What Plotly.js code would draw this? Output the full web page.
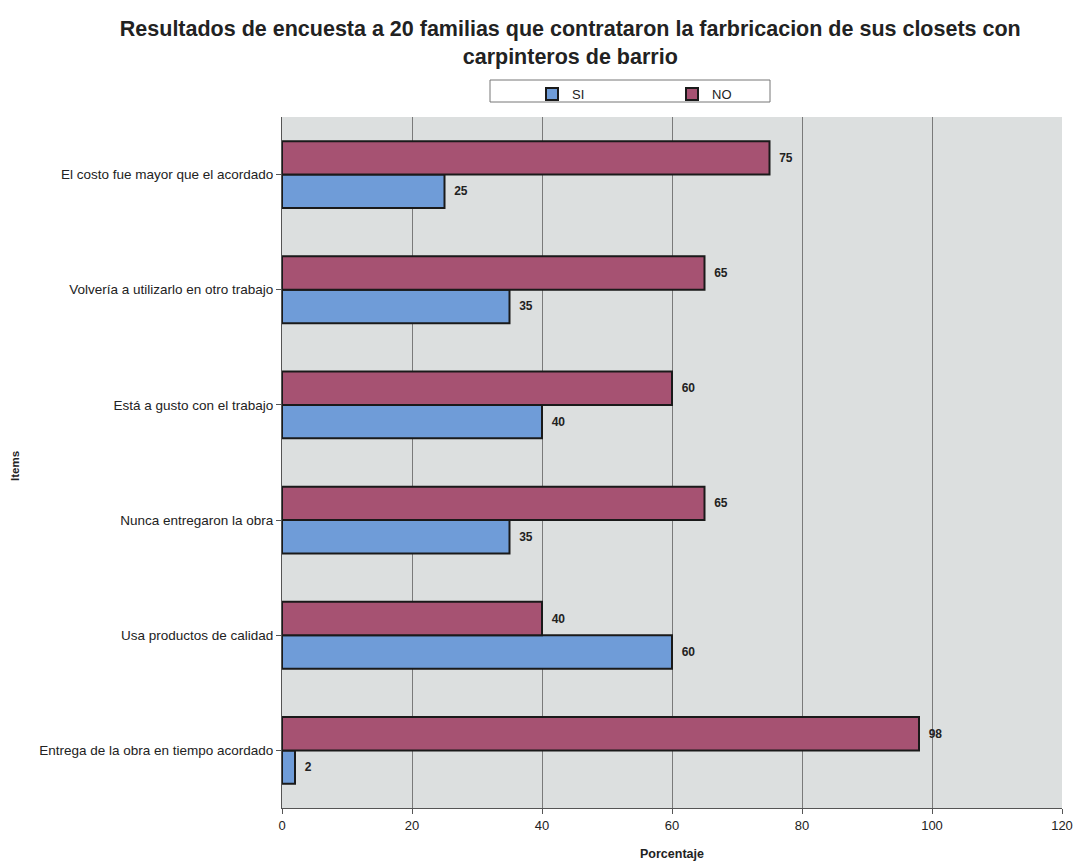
<!DOCTYPE html>
<html>
<head>
<meta charset="utf-8">
<script src="https://cdn.plot.ly/plotly-3.0.1.min.js"></script>
<style>html,body{margin:0;padding:0;background:#fff;}#chart{width:1076px;height:862px;}</style>
</head>
<body>
<div id="chart"></div>
<script>
const categories = [
  "Entrega de la obra en tiempo acordado",
  "Usa productos de calidad",
  "Nunca entregaron la obra",
  "Está a gusto con el trabajo",
  "Volvería a utilizarlo en otro trabajo",
  "El costo fue mayor que el acordado"
];
const siValues = [2, 60, 35, 40, 35, 25];
const noValues = [98, 40, 65, 60, 65, 75];
const xTicks = [0, 20, 40, 60, 80, 100, 120];

const labelFont = {family: 'Arial, Liberation Sans', size: 12, color: '#222', weight: 'bold'};

const traces = [
  {
    type: 'bar', orientation: 'h', name: 'SI',
    y: categories, x: siValues,
    texttemplate: '  %{x}', textposition: 'outside',
    textfont: labelFont,
    marker: {color: '#6f9cd8', line: {color: '#1a1a1a', width: 2}},
    cliponaxis: false
  },
  {
    type: 'bar', orientation: 'h', name: 'NO',
    y: categories, x: noValues,
    texttemplate: '  %{x}', textposition: 'outside',
    textfont: labelFont,
    marker: {color: '#a65272', line: {color: '#1a1a1a', width: 2}},
    cliponaxis: false
  }
];

const L = 282, R = 1062, T = 117, B = 808;
const px2x = p => (p - L) / (R - L);
const py2y = p => 1 + (T - p) / (B - T);

const layout = {
  width: 1076, height: 862,
  paper_bgcolor: '#ffffff',
  plot_bgcolor: '#dcdfdf',
  font: {family: 'Arial, Liberation Sans', size: 12, color: '#222'},
  title: {
    text: 'Resultados de encuesta a 20 familias que contrataron la farbricacion de sus closets con<br>carpinteros de barrio',
    font: {family: 'Arial, Liberation Sans', size: 21.5, color: '#222', weight: 'bold'},
    x: 0.53, xanchor: 'center', y: 0.958, yanchor: 'top'
  },
  margin: {l: L, r: 1076 - R, t: T, b: 862 - B},
  barmode: 'group',
  bargap: 0.42,
  bargroupgap: 0,
  showlegend: true,
  legend: {
    orientation: 'h', x: px2x(532), xanchor: 'left', y: py2y(79), yanchor: 'top',
    bgcolor: 'rgba(0,0,0,0)', borderwidth: 0,
    font: {family: 'Arial, Liberation Sans', size: 13, color: '#222'},
    itemwidth: 30, entrywidth: 95, entrywidthmode: 'pixels', traceorder: 'normal'
  },
  shapes: [{
    type: 'rect', xref: 'paper', yref: 'paper',
    x0: px2x(490), x1: px2x(770), y0: py2y(102), y1: py2y(80),
    line: {color: '#777', width: 1}, fillcolor: '#ffffff', layer: 'below'
  }],
  annotations: [{
    text: 'Items', xref: 'paper', yref: 'paper',
    x: px2x(15), y: py2y(466), xanchor: 'center', yanchor: 'middle',
    textangle: -90, showarrow: false,
    font: {size: 11.5, color: '#222', weight: 'bold'}
  }],
  xaxis: {
    range: [0, 120], tickvals: xTicks, ticktext: xTicks.map(String),
    showgrid: true, gridcolor: '#7a7a7a', gridwidth: 1,
    zeroline: false, showline: true, linecolor: '#555', linewidth: 1,
    ticks: 'outside', ticklen: 5, tickcolor: '#555',
    tickfont: {size: 13, color: '#222'},
    title: {text: 'Porcentaje', font: {size: 12.5, color: '#222', weight: 'bold'}, standoff: 17}
  },
  yaxis: {
    showgrid: false, zeroline: false, showline: true, linecolor: '#555', linewidth: 1,
    ticks: 'outside', ticklen: 5, tickcolor: '#555',
    tickfont: {size: 13.5, color: '#222'}
  }
};

Plotly.newPlot('chart', traces, layout, {displayModeBar: false, staticPlot: true});
</script>
</body>
</html>
